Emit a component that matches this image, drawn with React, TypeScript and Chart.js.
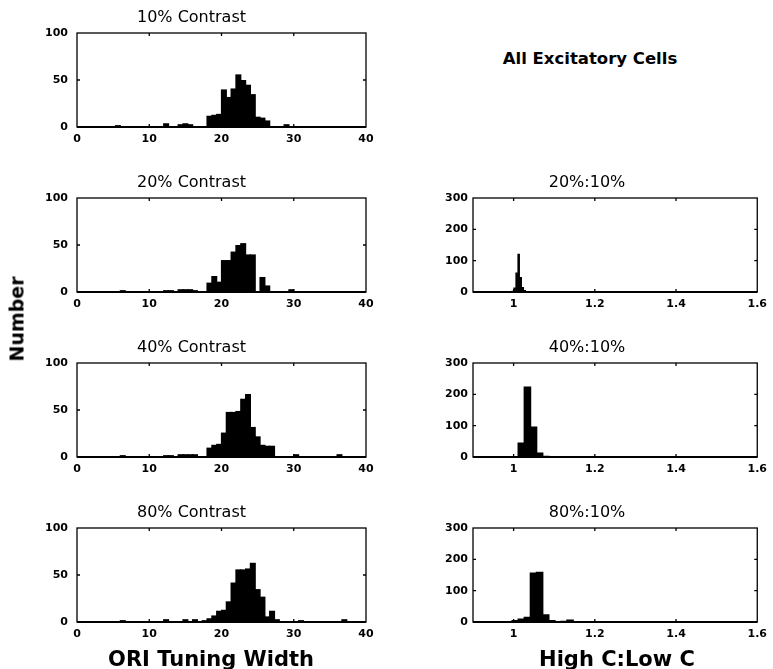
import React, { useEffect, useRef } from "react";
import { Chart, registerables } from "chart.js";

Chart.register(...registerables);

// ---------- Left column: ORI tuning width histograms (60 bins over 0..40) ----------
const ORI_BIN_WIDTH = 40 / 60;
const ORI_X_TICKS = [0, 10, 20, 30, 40];
const ORI_Y_TICKS = [0, 50, 100];

const C10_COUNTS = [
  0, 0, 0, 0, 0, 0, 0, 0, 2, 0,
  0, 1, 0, 0, 1, 0, 0, 0, 4, 1,
  0, 3, 4, 3, 0, 1, 1, 12, 13, 14,
  40, 32, 41, 56, 50, 45, 35, 11, 10, 7,
  0, 0, 0, 3, 1, 0, 0, 0, 0, 0,
  0, 0, 0, 0, 0, 0, 0, 0, 0, 0,
];
const C20_COUNTS = [
  0, 0, 0, 0, 0, 0, 0, 0, 0, 2,
  0, 0, 1, 0, 1, 0, 1, 0, 2, 2,
  0, 3, 3, 3, 2, 1, 0, 10, 17, 11,
  34, 34, 43, 50, 52, 40, 40, 1, 16, 7,
  0, 0, 0, 0, 3, 0, 0, 0, 0, 0,
  0, 0, 0, 0, 0, 0, 0, 0, 0, 0,
];
const C40_COUNTS = [
  0, 0, 0, 0, 0, 0, 0, 0, 0, 2,
  0, 0, 1, 0, 1, 0, 0, 0, 2, 2,
  0, 3, 3, 3, 3, 0, 1, 10, 13, 14,
  26, 48, 48, 49, 62, 67, 32, 22, 13, 12,
  12, 0, 0, 0, 0, 3, 0, 0, 0, 0,
  0, 0, 0, 0, 3, 0, 0, 0, 0, 0,
];
const C80_COUNTS = [
  0, 0, 0, 0, 0, 0, 0, 0, 0, 2,
  0, 0, 1, 0, 1, 0, 0, 0, 3, 0,
  0, 0, 3, 0, 3, 0, 2, 4, 7, 12,
  13, 22, 42, 56, 56, 57, 63, 35, 27, 6,
  12, 3, 0, 0, 1, 0, 2, 0, 0, 0,
  0, 0, 0, 0, 0, 3, 0, 0, 0, 0,
];
const ORI_BIN_CENTERS = C10_COUNTS.map((_, i) => (i + 0.5) * ORI_BIN_WIDTH);

// ---------- Right column: High C : Low C ratio histograms ----------
const RATIO_X_TICKS = [1, 1.2, 1.4, 1.6];
const RATIO_Y_TICKS = [0, 100, 200, 300];

const R20_CENTERS = [0.9975, 1.0025, 1.0075, 1.0125, 1.0175, 1.0225, 1.0275, 1.0325, 1.0375, 1.0425, 1.0475, 1.0525, 1.0675];
const R20_COUNTS = [4, 14, 62, 122, 48, 16, 6, 3, 2, 2, 1, 1, 1];

const R40_CENTERS = [1.004, 1.019, 1.034, 1.049, 1.064, 1.079, 1.094, 1.109];
const R40_COUNTS = [3, 46, 225, 97, 14, 4, 2, 1];

const R80_CENTERS = [0.989, 1.004, 1.019, 1.034, 1.049, 1.064, 1.079, 1.094, 1.109, 1.124, 1.139, 1.154, 1.169, 1.589];
const R80_COUNTS = [2, 6, 11, 17, 158, 160, 25, 6, 3, 4, 8, 3, 1, 3];

const FONT = '"DejaVu Sans", "Liberation Sans", sans-serif';

// Box frame with inward tick marks (MATLAB style)
const framePlugin = {
  id: "frame",
  afterDraw(chart: any) {
    const { ctx, chartArea: a, scales } = chart;
    ctx.save();
    ctx.strokeStyle = "#000";
    ctx.lineWidth = 1.3;
    ctx.strokeRect(a.left, a.top, a.right - a.left, a.bottom - a.top);
    const L = 3;
    ctx.beginPath();
    scales.x.ticks.forEach((t: any) => {
      const px = scales.x.getPixelForValue(t.value);
      if (px > a.left + 1 && px < a.right - 1) {
        ctx.moveTo(px, a.top);
        ctx.lineTo(px, a.top + L);
        ctx.moveTo(px, a.bottom);
        ctx.lineTo(px, a.bottom - L);
      }
    });
    scales.y.ticks.forEach((t: any) => {
      const py = scales.y.getPixelForValue(t.value);
      if (py > a.top + 1 && py < a.bottom - 1) {
        ctx.moveTo(a.left, py);
        ctx.lineTo(a.left + L, py);
        ctx.moveTo(a.right, py);
        ctx.lineTo(a.right - L, py);
      }
    });
    ctx.stroke();
    ctx.lineWidth = 2;
    ctx.beginPath();
    ctx.moveTo(a.left, a.bottom);
    ctx.lineTo(a.right, a.bottom);
    ctx.stroke();
    ctx.restore();
  },
};

type PanelProps = {
  left: number;
  top: number;
  width: number;
  height: number;
  rpad: number;
  ypad: number;
  title: string;
  xs: number[];
  ys: number[];
  xMin: number;
  xMax: number;
  xTicks: number[];
  yMax: number;
  yTicks: number[];
};

const AXW = 60;
const TOPH = 30;
const BOTH = 26;

function Panel(p: PanelProps) {
  const ref = useRef<HTMLCanvasElement>(null);
  const cw = AXW + p.width + p.rpad;
  const ch = TOPH + p.height + BOTH;

  useEffect(() => {
    const tickFont = { family: FONT, size: 11, weight: "bold" as const };
    const chart = new Chart(ref.current as HTMLCanvasElement, {
      type: "bar",
      data: {
        datasets: [
          {
            data: p.xs.map((x, i) => ({ x, y: p.ys[i] })),
            backgroundColor: "#000",
            borderWidth: 0,
            barPercentage: 1.25,
            categoryPercentage: 1.0,
          } as any,
        ],
      },
      options: {
        animation: false,
        responsive: false,
        maintainAspectRatio: false,
        events: [],
        layout: { padding: { top: 7, right: p.rpad, left: 0, bottom: 0 } },
        plugins: {
          legend: { display: false },
          tooltip: { enabled: false },
          title: {
            display: true,
            text: p.title,
            color: "#000",
            font: { family: FONT, size: 16, weight: "normal", lineHeight: 1 },
            padding: { top: 0, bottom: 7 },
          },
        },
        scales: {
          x: {
            type: "linear",
            min: p.xMin,
            max: p.xMax,
            offset: false,
            grid: { display: false, drawTicks: false },
            border: { display: false },
            afterBuildTicks: (axis: any) => {
              axis.ticks = p.xTicks.map((v) => ({ value: v }));
            },
            afterFit: (axis: any) => {
              axis.height = BOTH;
            },
            ticks: {
              color: "#000",
              font: tickFont,
              padding: 6,
              maxRotation: 0,
              autoSkip: false,
              callback: (v: any) => String(v),
            },
          },
          y: {
            type: "linear",
            min: 0,
            max: p.yMax,
            grid: { display: false, drawTicks: false },
            border: { display: false },
            afterBuildTicks: (axis: any) => {
              axis.ticks = p.yTicks.map((v) => ({ value: v }));
            },
            afterFit: (axis: any) => {
              axis.width = AXW;
            },
            ticks: {
              color: "#000",
              font: tickFont,
              padding: p.ypad,
              callback: (v: any) => String(v),
            },
          },
        },
      } as any,
      plugins: [framePlugin],
    });
    return () => chart.destroy();
  }, []);

  return (
    <canvas
      ref={ref}
      width={cw}
      height={ch}
      style={{
        position: "absolute",
        left: p.left - AXW,
        top: p.top - TOPH,
        width: cw,
        height: ch,
      }}
    />
  );
}

const LEFT_X = 77;
const LEFT_W = 289;
const RIGHT_X = 473;
const RIGHT_W = 288;
const PANEL_H = 94;
const ROW_TOPS = [33, 198, 363, 528];

const labelStyle: React.CSSProperties = {
  position: "absolute",
  whiteSpace: "nowrap",
  lineHeight: 1,
  fontFamily: FONT,
  fontWeight: "bold",
  color: "#000",
};

export default function App() {
  const leftPanels = [
    { title: "10% Contrast", ys: C10_COUNTS },
    { title: "20% Contrast", ys: C20_COUNTS },
    { title: "40% Contrast", ys: C40_COUNTS },
    { title: "80% Contrast", ys: C80_COUNTS },
  ];
  const rightPanels = [
    { title: "20%:10%", xs: R20_CENTERS, ys: R20_COUNTS, row: 1 },
    { title: "40%:10%", xs: R40_CENTERS, ys: R40_COUNTS, row: 2 },
    { title: "80%:10%", xs: R80_CENTERS, ys: R80_COUNTS, row: 3 },
  ];
  return (
    <div
      style={{
        position: "absolute",
        left: 0,
        top: 0,
        width: 773,
        height: 669,
        background: "#fff",
        overflow: "hidden",
      }}
    >
      {leftPanels.map((lp, i) => (
        <Panel
          key={lp.title}
          left={LEFT_X}
          top={ROW_TOPS[i]}
          width={LEFT_W}
          height={PANEL_H}
          rpad={16}
          ypad={9}
          title={lp.title}
          xs={ORI_BIN_CENTERS}
          ys={lp.ys}
          xMin={0}
          xMax={40}
          xTicks={ORI_X_TICKS}
          yMax={100}
          yTicks={ORI_Y_TICKS}
        />
      ))}
      {rightPanels.map((rp) => (
        <Panel
          key={rp.title}
          left={RIGHT_X}
          top={ROW_TOPS[rp.row]}
          width={RIGHT_W}
          height={PANEL_H}
          rpad={12}
          ypad={5}
          title={rp.title}
          xs={rp.xs}
          ys={rp.ys}
          xMin={0.9}
          xMax={1.6}
          xTicks={RATIO_X_TICKS}
          yMax={300}
          yTicks={RATIO_Y_TICKS}
        />
      ))}
      <div style={{ ...labelStyle, left: 590, top: 51, fontSize: 16.5, transform: "translateX(-50%)" }}>
        All Excitatory Cells
      </div>
      <div style={{ ...labelStyle, left: 211, top: 649, fontSize: 21, transform: "translateX(-50%)" }}>
        ORI Tuning Width
      </div>
      <div style={{ ...labelStyle, left: 617, top: 649, fontSize: 21, transform: "translateX(-50%)" }}>
        High C:Low C
      </div>
      <div
        style={{
          ...labelStyle,
          left: 17,
          top: 319,
          fontSize: 19,
          transform: "translate(-50%, -50%) rotate(-90deg)",
        }}
      >
        Number
      </div>
    </div>
  );
}
